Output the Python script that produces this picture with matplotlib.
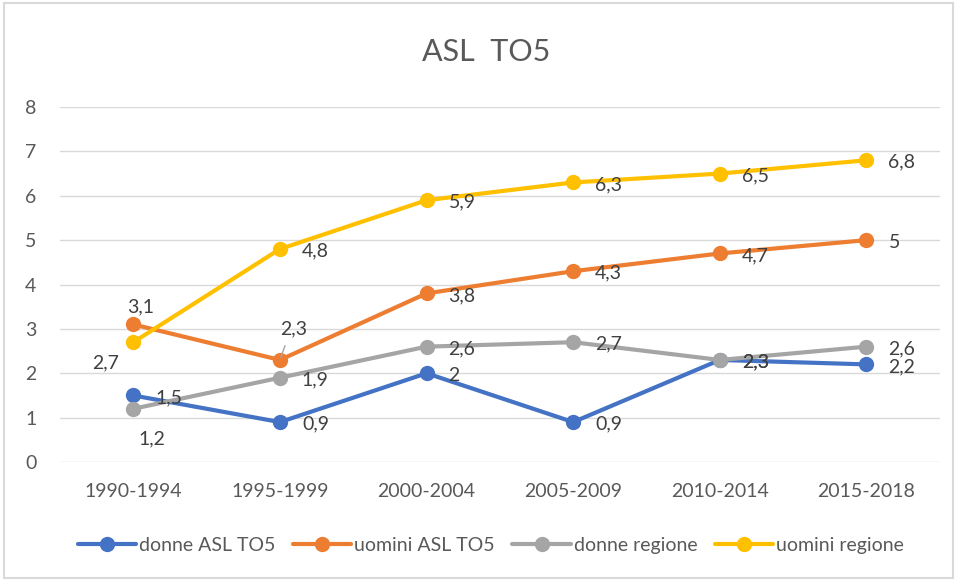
import matplotlib.pyplot as plt
from matplotlib.patches import Rectangle

periods = ['1990-1994', '1995-1999', '2000-2004', '2005-2009', '2010-2014', '2015-2018']
donne_asl = [1.5, 0.9, 2.0, 0.9, 2.3, 2.2]
uomini_asl = [3.1, 2.3, 3.8, 4.3, 4.7, 5.0]
donne_regione = [1.2, 1.9, 2.6, 2.7, 2.3, 2.6]
uomini_regione = [2.7, 4.8, 5.9, 6.3, 6.5, 6.8]

series_names = ['donne ASL TO5', 'uomini ASL TO5', 'donne regione', 'uomini regione']
colors = ['#4472C4', '#ED7D31', '#A5A5A5', '#FFC000']

plt.rcParams['font.family'] = ['Lato', 'DejaVu Sans']

fig = plt.figure(figsize=(9.57, 5.8), dpi=100)
ax = fig.add_axes([0.0627, 0.2034, 0.9193, 0.6121])

# label placement tweaks (pixels), like Excel's manual adjustments
special = {
    (1, 0): ((7, 18), 'center', '--'),
    (3, 0): ((-28, -21), 'center', ''),
    (2, 0): ((19, -30), 'center', ''),
    (1, 1): ((14, 31), 'center', 'leader'),
}

x = list(range(len(periods)))
all_series = [donne_asl, uomini_asl, donne_regione, uomini_regione]
for i, (vals, name, col) in enumerate(zip(all_series, series_names, colors)):
    ax.plot(x, vals, color=col, lw=3, marker='o', ms=10, label=name,
            solid_capstyle='round', zorder=3)
    for j, v in enumerate(vals):
        lab = str(v).replace('.', ',').replace(',0', '')
        if (i, j) in special:
            off, ha, kind = special[(i, j)]
            if kind == 'leader':
                ax.annotate('', xy=(j, v), xytext=(off[0] - 8, off[1] - 14),
                            textcoords='offset pixels',
                            arrowprops=dict(arrowstyle='-', color='#A5A5A5', lw=1))
        else:
            off, ha = (22, -2), 'left'
        ax.annotate(lab, xy=(j, v), xytext=off, textcoords='offset pixels',
                    ha=ha, va='center', fontsize=14, color='#404040', zorder=4)

ax.set_xlim(-0.5, len(periods) - 0.5)
ax.set_ylim(0, 8)
ax.set_yticks(range(0, 9))
ax.set_xticks(x)
ax.set_xticklabels(periods)
ax.grid(axis='y', color='#D9D9D9', lw=1)
ax.set_axisbelow(True)
for s in ax.spines.values():
    s.set_visible(False)
ax.tick_params(length=0, labelsize=14, labelcolor='#595959')
ax.tick_params(axis='y', pad=17)
ax.tick_params(axis='x', pad=15)

fig.text(0.508, 0.91, 'ASL  TO5', ha='center', va='center', fontsize=22, color='#595959')

fig.legend(loc='center', bbox_to_anchor=(0.513, 0.059), ncol=4, frameon=False,
           fontsize=14, handlelength=3.0, handletextpad=0.15, columnspacing=0.9,
           labelcolor='#595959')

fig.patches.append(Rectangle((0.004, 0.004), 0.992, 0.99, transform=fig.transFigure,
                             fill=False, edgecolor='#D9D9D9', lw=1.5))

fig.savefig('out.png', dpi=100, facecolor='white')
